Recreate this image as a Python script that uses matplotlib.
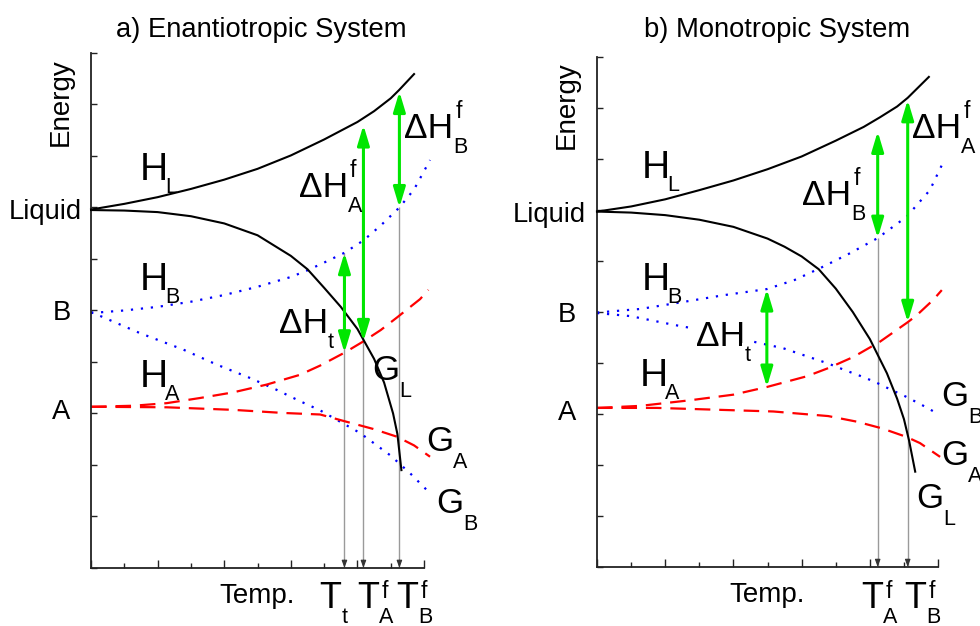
import matplotlib
matplotlib.use('Agg')
import matplotlib.pyplot as plt

plt.rcParams['font.family'] = ['Liberation Sans', 'DejaVu Sans']

# ---------------- a) enantiotropic system ----------------
a_hl_x = [0, 1, 2, 3, 4, 5, 6, 7, 8, 8.5, 9, 9.25, 9.70]
a_hl_y = [6.96, 7.07, 7.20, 7.36, 7.54, 7.75, 8.01, 8.32, 8.66, 8.87, 9.12, 9.28, 9.59]
a_gl_x = [0, 1, 2, 3, 4, 5, 6, 6.5, 7, 7.5, 8, 8.5, 8.8, 9.07, 9.2, 9.32]
a_gl_y = [6.95, 6.94, 6.91, 6.83, 6.69, 6.46, 6.06, 5.80, 5.44, 5.07, 4.64, 4.06, 3.60, 3.00, 2.60, 1.90]
a_hb_x = [0, 1, 2, 3, 4, 5, 6, 6.5, 7, 7.61, 8.18, 8.7, 9.26, 9.7, 10.18]
a_hb_y = [4.95, 5.00, 5.07, 5.17, 5.30, 5.46, 5.65, 5.78, 5.93, 6.12, 6.36, 6.65, 7.00, 7.35, 7.92]
a_gb_x = [0, 1.47, 2.77, 3.77, 4.77, 5.57, 6.27, 6.88, 7.48, 8.08, 8.98, 9.58, 10.18]
a_gb_y = [4.97, 4.56, 4.24, 3.95, 3.69, 3.46, 3.24, 3.06, 2.84, 2.62, 2.19, 1.84, 1.45]
a_ha_x = [0, 1.27, 2.27, 3.27, 4.27, 5.27, 6.27, 6.88, 7.61, 8.18, 8.7, 9.18, 9.88, 10.13]
a_ha_y = [3.13, 3.15, 3.20, 3.30, 3.41, 3.56, 3.75, 3.93, 4.18, 4.40, 4.62, 4.86, 5.22, 5.40]
a_ga_x = [0, 2.27, 4.27, 5.77, 6.88, 7.61, 8.47, 9.18, 9.7, 10.18]
a_ga_y = [3.13, 3.12, 3.07, 3.01, 2.98, 2.85, 2.70, 2.55, 2.38, 2.16]

# enthalpy arrows (dHt, dHAf, dHBf) and temperature drop lines
a_arrow_x = [7.61, 8.18, 9.26]
a_arrow_lo = [4.18, 4.40, 7.00]
a_arrow_hi = [6.12, 8.60, 9.25]
a_temp_x = [7.61, 8.18, 9.26]
a_temp_top = [6.12, 6.36, 7.00]

# ---------------- b) monotropic system ----------------
b_hl_x = [0, 1, 2, 3, 4, 5, 6, 7, 7.82, 8.3, 8.8, 9.11, 9.73]
b_hl_y = [6.97, 7.07, 7.21, 7.39, 7.58, 7.80, 8.05, 8.36, 8.63, 8.82, 9.03, 9.20, 9.61]
b_gl_x = [0, 1, 2, 3, 4, 5, 5.5, 6, 6.5, 7, 7.5, 8, 8.5, 8.8, 9.0, 9.15, 9.33]
b_gl_y = [6.97, 6.95, 6.90, 6.81, 6.67, 6.44, 6.28, 6.09, 5.84, 5.46, 5.00, 4.47, 3.80, 3.30, 2.90, 2.48, 1.87]
b_hb_x = [0, 1.27, 2.73, 3.71, 4.98, 5.8, 6.54, 7.41, 8.23, 9.08, 9.76, 10.16]
b_hb_y = [4.99, 5.06, 5.22, 5.33, 5.45, 5.63, 5.86, 6.15, 6.45, 6.87, 7.39, 7.95]
b_gb_x = [0, 0.98, 2.24, 2.73, 5.46, 6.78, 7.27, 7.71, 8.15, 8.61, 9.06, 9.52, 9.98]
b_gb_y = [4.98, 4.92, 4.75, 4.69, 4.29, 3.99, 3.86, 3.75, 3.63, 3.48, 3.34, 3.18, 3.01]
b_ha_x = [0, 1.27, 2.73, 4.0, 4.98, 6.15, 6.78, 7.52, 8.3, 9.11, 9.38, 9.86, 10.11]
b_ha_y = [3.12, 3.16, 3.27, 3.38, 3.53, 3.74, 3.90, 4.12, 4.42, 4.80, 4.94, 5.24, 5.43]
b_ga_x = [0, 1.76, 3.71, 5.17, 6.78, 7.62, 8.35, 9.08, 9.47, 10.06]
b_ga_y = [3.12, 3.12, 3.08, 3.05, 2.96, 2.85, 2.72, 2.55, 2.43, 2.16]

b_arrow_x = [4.98, 8.23, 9.11]
b_arrow_lo = [3.53, 6.45, 4.80]
b_arrow_hi = [5.45, 8.54, 9.16]
b_temp_x = [8.23, 9.11]
b_temp_top = [6.45, 4.80]

level_names = ['Liquid', 'B', 'A']
level_x = [-2.48, -1.16, -1.16]
level_y = [6.77, 4.81, 2.89]

titles = ['a) Enantiotropic System', 'b) Monotropic System']

# (x, y, main, sub, sup, kind)
a_labels = [
    (1.45, 7.53, 'H', 'L', '', 'H'),
    (1.45, 5.40, 'H', 'B', '', 'H'),
    (1.45, 3.52, 'H', 'A', '', 'H'),
    (5.64, 4.56, '\u0394H', 't', '', 'dH'),
    (6.24, 7.20, '\u0394H', 'A', 'f', 'dH'),
    (9.40, 8.35, '\u0394H', 'B', 'f', 'dH'),
    (8.44, 3.65, 'G', 'L', '', 'G'),
    (10.06, 2.27, 'G', 'A', '', 'G'),
    (10.36, 1.07, 'G', 'B', '', 'G'),
    (6.86, -0.78, 'T', 't', '', 'T'),
    (8.00, -0.78, 'T', 'A', 'f', 'T'),
    (9.17, -0.78, 'T', 'B', 'f', 'T'),
]
b_labels = [
    (1.30, 7.63, 'H', 'L', '', 'H'),
    (1.30, 5.43, 'H', 'B', '', 'H'),
    (1.24, 3.55, 'H', 'A', '', 'H'),
    (2.90, 4.33, '\u0394H', 't', '', 'dH'),
    (6.01, 7.10, '\u0394H', 'B', 'f', 'dH'),
    (9.24, 8.41, '\u0394H', 'A', 'f', 'dH'),
    (10.09, 3.16, 'G', 'B', '', 'G'),
    (10.09, 2.00, 'G', 'A', '', 'G'),
    (9.35, 1.16, 'G', 'L', '', 'G'),
    (7.75, -0.80, 'T', 'A', 'f', 'T'),
    (9.01, -0.80, 'T', 'B', 'f', 'T'),
]

# size, drop, rise for each label kind
styles = {'H': (28, 9.5, 14), 'dH': (25.5, 11, 14.4), 'G': (25, 12, 14), 'T': (26, 11, 7)}

green = '#00e600'
red = '#ff0000'
blue = '#0000ff'

fig = plt.figure(figsize=(9.8, 6.26), dpi=100)
renderer = fig.canvas.get_renderer()
ax_a = fig.add_axes([0.0929, 0.0927, 0.3398, 0.8227])
ax_b = fig.add_axes([0.6092, 0.0942, 0.3480, 0.8147])


def put_label(ax, x, y, main, sub, sup, kind, box=False):
    size, drop, rise = styles[kind]
    bb = dict(facecolor='white', edgecolor='none', pad=2) if box else None
    t = ax.text(x, y, main, fontsize=size, ha='left', va='baseline', zorder=6, bbox=bb)
    w = t.get_window_extent(renderer).width * 72 / fig.dpi
    dx = -1.5 if kind == 'H' else 0
    if sub:
        ax.annotate(sub, (x, y), xytext=(w + dx, -drop), textcoords='offset points',
                    fontsize=15.5, va='baseline', annotation_clip=False, zorder=6, bbox=bb)
    if sup:
        ax.annotate(sup, (x, y), xytext=(w + 1.5, rise), textcoords='offset points',
                    fontsize=16.5, va='baseline', annotation_clip=False, zorder=6)


def draw_panel(ax, curves, arrow_x, arrow_lo, arrow_hi, temp_x, temp_top, labels, box_dht):
    ax.set_xlim(0, 10)
    ax.set_ylim(0, 10)
    for s in ['top', 'right']:
        ax.spines[s].set_visible(False)
    for s in ['left', 'bottom']:
        ax.spines[s].set_linewidth(1.3)
        ax.spines[s].set_color('#222222')
    ax.set_xticks(range(0, 11, 2))
    ax.set_xticks(range(1, 11, 2), minor=True)
    ax.set_yticks(range(0, 11))
    ax.tick_params(which='both', direction='in', labelleft=False, labelbottom=False,
                   color='#222222', width=1)
    ax.tick_params(axis='x', which='major', length=5.8)
    ax.tick_params(axis='x', which='minor', length=3.6)
    ax.tick_params(axis='y', length=4.3)

    (hl_x, hl_y), (gl_x, gl_y), (hb_x, hb_y), (gb_x, gb_y), (ha_x, ha_y), (ga_x, ga_y) = curves
    ax.plot(hl_x, hl_y, color='black', lw=1.5, clip_on=False, zorder=3)
    ax.plot(gl_x, gl_y, color='black', lw=1.5, clip_on=False, zorder=3)
    ax.plot(hb_x, hb_y, color=blue, lw=1.6, ls=(0, (1, 3.5)), clip_on=False, zorder=2)
    ax.plot(gb_x, gb_y, color=blue, lw=1.6, ls=(0, (1, 3.5)), clip_on=False, zorder=2)
    ax.plot(ha_x, ha_y, color=red, lw=1.6, ls=(0, (7, 4)), clip_on=False, zorder=2)
    ax.plot(ga_x, ga_y, color=red, lw=1.6, ls=(0, (7, 4)), clip_on=False, zorder=2)

    # temperature drop lines with small heads on the axis
    ax.vlines(temp_x, 0, temp_top, color='#9a9a9a', lw=1.0, zorder=1)
    for x in temp_x:
        ax.annotate('', xy=(x, 0), xytext=(x, 0.15),
                    arrowprops=dict(arrowstyle='-|>,head_length=0.55,head_width=0.2',
                                    mutation_scale=8, color='#333333', lw=0.8,
                                    shrinkA=0, shrinkB=0), zorder=2)

    # enthalpy differences
    for x, lo, hi in zip(arrow_x, arrow_lo, arrow_hi):
        ax.annotate('', xy=(x, hi), xytext=(x, lo),
                    arrowprops=dict(arrowstyle='<|-|>,head_length=0.6,head_width=0.18',
                                    mutation_scale=20, color=green, lw=2.2,
                                    shrinkA=0, shrinkB=0), zorder=4)

    for name, lx, ly in zip(level_names, level_x, level_y):
        ax.text(lx, ly, name, fontsize=19.7, ha='left', va='baseline')

    ax.text(-0.09, 0.905, 'Energy', transform=ax.transAxes, rotation=90,
            fontsize=20, ha='center', va='center')
    ax.text(5.0, -0.68, 'Temp.', fontsize=20, ha='center', va='baseline')

    for x, y, main, sub, sup, kind in labels:
        put_label(ax, x, y, main, sub, sup, kind, box=(box_dht and sub == 't'))


draw_panel(ax_a,
           [(a_hl_x, a_hl_y), (a_gl_x, a_gl_y), (a_hb_x, a_hb_y),
            (a_gb_x, a_gb_y), (a_ha_x, a_ha_y), (a_ga_x, a_ga_y)],
           a_arrow_x, a_arrow_lo, a_arrow_hi, a_temp_x, a_temp_top, a_labels, False)
draw_panel(ax_b,
           [(b_hl_x, b_hl_y), (b_gl_x, b_gl_y), (b_hb_x, b_hb_y),
            (b_gb_x, b_gb_y), (b_ha_x, b_ha_y), (b_ga_x, b_ga_y)],
           b_arrow_x, b_arrow_lo, b_arrow_hi, b_temp_x, b_temp_top, b_labels, True)

fig.text(0.267, 0.941, titles[0], fontsize=19.7, ha='center', va='baseline')
fig.text(0.793, 0.941, titles[1], fontsize=19.7, ha='center', va='baseline')

fig.savefig('out.png', dpi=100)
